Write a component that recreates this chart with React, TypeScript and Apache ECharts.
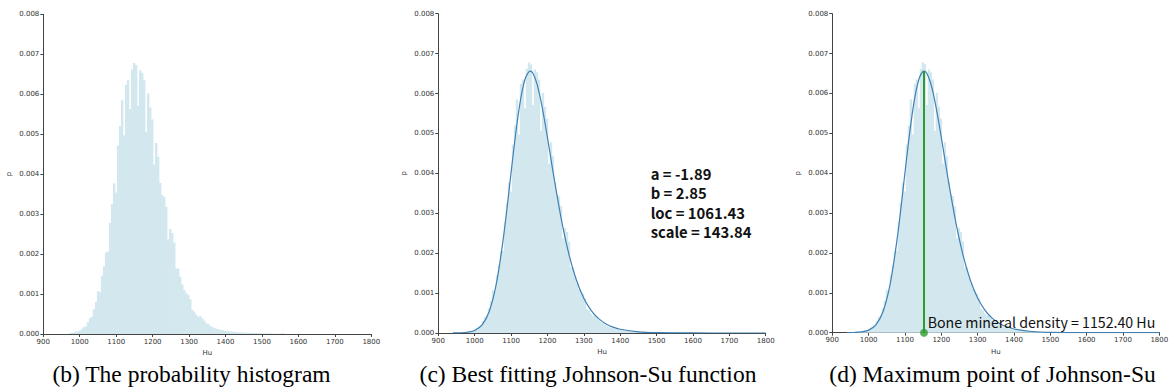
import React, { useEffect, useRef } from "react";
import * as echarts from "echarts";

// Histogram (probability density per bin)
const histStart = 970;
const binWidth = 5.5;
const histDensity = [
  0.00002, 0.00003, 0.00004, 0.00006, 0.00007, 0.00009, 0.00013, 0.00017, 0.00019, 0.0003,
  0.0004, 0.00043, 0.00062, 0.0008, 0.00107, 0.00105, 0.00145, 0.0017, 0.00204, 0.00206,
  0.00278, 0.00325, 0.00377, 0.00354, 0.00472, 0.0052, 0.00585, 0.00497, 0.00624, 0.00635,
  0.00563, 0.00662, 0.00678, 0.00673, 0.00571, 0.0066, 0.00653, 0.00635, 0.00506, 0.00602,
  0.00567, 0.00537, 0.00424, 0.00478, 0.00443, 0.00378, 0.00348, 0.00343, 0.00318, 0.00237,
  0.00263, 0.00253, 0.00229, 0.00164, 0.00164, 0.00143, 0.00124, 0.0011, 0.00102, 0.00098,
  0.00087, 0.0006, 0.00056, 0.00048, 0.00043, 0.00045, 0.00039, 0.00033, 0.00027, 0.00025,
  0.0002, 0.00017, 0.00015, 0.00013, 0.00012, 0.0001, 0.0001, 0.00008, 0.000075, 0.00007,
  0.00006, 0.00006, 0.00005, 0.00005, 0.00004, 0.00004, 0.00004, 0.000035, 0.00003, 0.00003,
  0.00003, 0.000025, 0.00002, 0.00003, 0.00002, 0.00002, 0.00002, 0.000015, 0.00002, 0.000015,
  0.00001, 0.00001, 0.000005, 0.000005, 0.000005, 0.000005, 0.00002, 0.000005,
];

// Fitted Johnson-Su curve
const curveHu = [
  940, 960, 980, 1000, 1020, 1040, 1060, 1080, 1100, 1110, 1120, 1130, 1140, 1150, 1152.4,
  1160, 1170, 1180, 1190, 1200, 1210, 1220, 1240, 1260, 1280, 1300, 1320, 1340, 1360, 1380,
  1400, 1450, 1500, 1600, 1700, 1800,
];
const curveP = [
  0.0000015, 0.0000055, 0.0000193, 0.0000647, 0.000198, 0.000539, 0.001255, 0.002459, 0.004012,
  0.004793, 0.005488, 0.006038, 0.0064, 0.006556, 0.00656, 0.006507, 0.00628, 0.005909, 0.005436,
  0.0049, 0.00434, 0.003784, 0.002766, 0.001937, 0.001315, 0.000872, 0.000568, 0.000365, 0.000233,
  0.000148, 0.0000933, 0.0000295, 0.0000094, 0.000001, 0.0000002, 0.0000001,
];

const fitParams = ["a = -1.89", "b = 2.85", "loc = 1061.43", "scale = 143.84"];
const peakHu = 1152.4;
const peakP = 0.00656;
const peakLabel = "Bone mineral density = 1152.40 Hu";
const captions = [
  "(b) The probability histogram",
  "(c) Best fitting Johnson-Su function",
  "(d) Maximum point of Johnson-Su",
];

const HIST_COLOR = "#d3e8ee";
const CURVE_COLOR = "#3f80b5";
const GREEN = "#2f9a2f";
const AXIS_COLOR = "#444";
const LABEL_FONT = "DejaVu Sans";

const grids = [
  { left: 43.3, top: 14.3, width: 328, height: 319.7 },
  { left: 438.3, top: 13.7, width: 327.4, height: 319.3 },
  { left: 832.3, top: 13.7, width: 327, height: 319 },
];

export default function App() {
  const ref = useRef<HTMLDivElement>(null);

  useEffect(() => {
    if (!ref.current) return;
    const chart = echarts.init(ref.current, undefined, { renderer: "svg" });

    const histData = histDensity.map((v, i) => [
      histStart + i * binWidth,
      histStart + (i + 1) * binWidth,
      v,
    ]);
    const curveData = curveHu.map((x, i) => [x, curveP[i]]);

    const xAxes = grids.map((_, i) => ({
      type: "value",
      gridIndex: i,
      min: 900,
      max: 1800,
      interval: 100,
      name: "Hu",
      nameLocation: "middle",
      nameGap: 14,
      nameTextStyle: { fontSize: 7, color: "#333", fontFamily: LABEL_FONT },
      splitLine: { show: false },
      axisLine: { show: true, onZero: false, lineStyle: { color: AXIS_COLOR, width: 1 } },
      axisTick: { show: true, length: 3, lineStyle: { color: AXIS_COLOR } },
      axisLabel: {
        fontSize: 7,
        color: "#333",
        fontFamily: LABEL_FONT,
        margin: 4,
        showMinLabel: true,
        showMaxLabel: true,
        formatter: (v: number) => String(Math.round(v)),
      },
    }));
    const yAxes = grids.map((_, i) => ({
      type: "value",
      gridIndex: i,
      min: 0,
      max: 0.008,
      interval: 0.001,
      name: "p",
      nameLocation: "middle",
      nameGap: 31,
      nameTextStyle: { fontSize: 7, color: "#333", fontFamily: LABEL_FONT },
      splitLine: { show: false },
      axisLine: { show: true, lineStyle: { color: AXIS_COLOR, width: 1 } },
      axisTick: { show: true, length: 3, lineStyle: { color: AXIS_COLOR } },
      axisLabel: {
        fontSize: 7,
        color: "#333",
        fontFamily: LABEL_FONT,
        margin: 4,
        formatter: (v: number) => v.toFixed(3),
      },
    }));

    const histSeries = grids.map((_, i) => ({
      type: "custom",
      xAxisIndex: i,
      yAxisIndex: i,
      data: histData,
      encode: { x: [0, 1], y: 2 },
      silent: true,
      renderItem: (params: any, api: any) => {
        const x0 = api.value(0);
        const x1 = api.value(1);
        const v = api.value(2);
        const p0 = api.coord([x0, v]);
        const p1 = api.coord([x1, 0]);
        return {
          type: "rect",
          shape: { x: p0[0], y: p0[1], width: p1[0] - p0[0] + 0.4, height: p1[1] - p0[1] },
          style: { fill: HIST_COLOR },
        };
      },
      z: 1,
    }));

    const curveSeries = [1, 2].map((i) => ({
      type: "line",
      xAxisIndex: i,
      yAxisIndex: i,
      data: curveData,
      smooth: 0.3,
      showSymbol: false,
      silent: true,
      lineStyle: { color: CURVE_COLOR, width: 1.2 },
      z: 3,
    }));

    const peakLine = {
      type: "line",
      xAxisIndex: 2,
      yAxisIndex: 2,
      data: [
        [peakHu, 0],
        [peakHu, peakP],
      ],
      showSymbol: false,
      silent: true,
      lineStyle: { color: GREEN, width: 2 },
      z: 4,
    };
    const peakDot = {
      type: "scatter",
      xAxisIndex: 2,
      yAxisIndex: 2,
      data: [[peakHu, 0]],
      symbolSize: 8,
      silent: true,
      itemStyle: { color: GREEN },
      z: 5,
    };

    const graphic: any[] = [];
    const capX = [191.5, 588, 992.5];
    captions.forEach((c, i) => {
      graphic.push({
        type: "text",
        x: capX[i],
        y: 374,
        style: {
          text: c,
          fontFamily: "Liberation Serif",
          fontSize: 23.5,
          fill: "#000",
          textAlign: "center",
          textVerticalAlign: "middle",
        },
      });
    });
    graphic.push({
      type: "text",
      x: 650.7,
      y: 164,
      style: {
        text: fitParams.join("\n"),
        fontFamily: "Noto Sans CJK SC",
        fontWeight: "bold",
        fontSize: 14.8,
        lineHeight: 19.3,
        fill: "#111",
        textAlign: "left",
        textVerticalAlign: "top",
      },
    });
    graphic.push({
      type: "text",
      x: 927.7,
      y: 322,
      z: 10,
      style: {
        text: peakLabel,
        fontFamily: "Noto Sans CJK SC",
        fontWeight: "normal",
        fontSize: 14.2,
        fill: "#111",
        textAlign: "left",
        textVerticalAlign: "middle",
      },
    });

    chart.setOption({
      animation: false,
      backgroundColor: "#fff",
      grid: grids.map((g) => ({ ...g, containLabel: false })),
      xAxis: xAxes,
      yAxis: yAxes,
      series: [...histSeries, ...curveSeries, peakLine, peakDot],
      graphic,
    });

    return () => chart.dispose();
  }, []);

  return (
    <div
      ref={ref}
      style={{ position: "fixed", left: 0, top: 0, width: 1174, height: 392, background: "#fff" }}
    />
  );
}
